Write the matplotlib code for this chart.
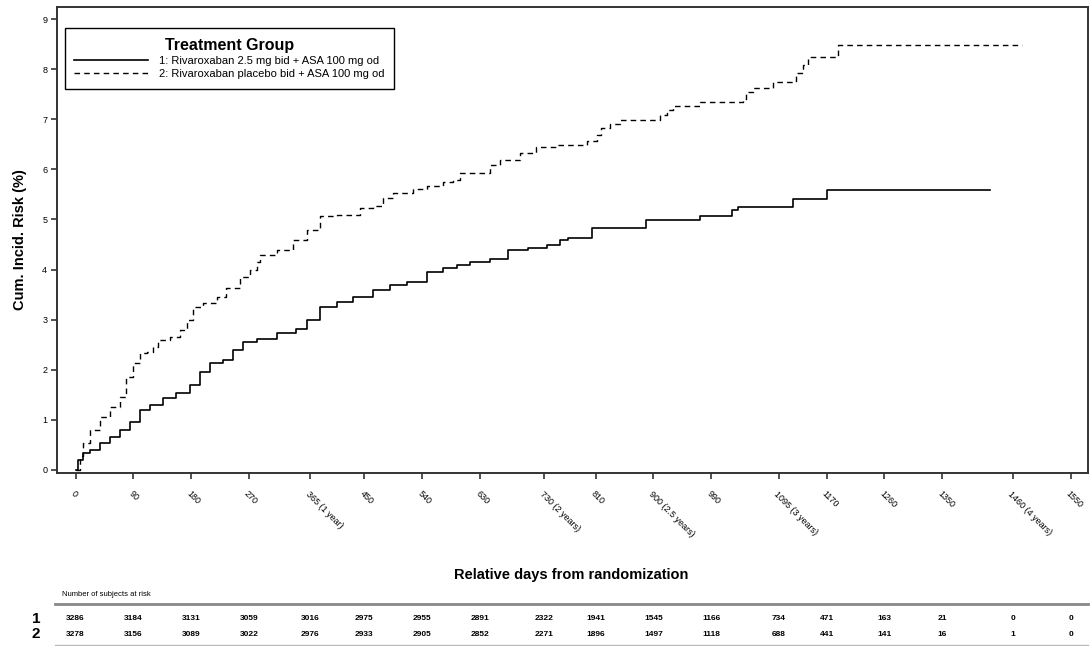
import matplotlib.pyplot as plt
from matplotlib.lines import Line2D
from matplotlib.transforms import blended_transform_factory

plt.rcParams['font.family'] = ['Liberation Sans', 'DejaVu Sans']

# cumulative incidence, step points (day, %)
days_riva = [0, 4, 12, 22, 38, 53, 69, 85, 100, 116, 136, 157, 178, 194, 209, 230, 246, 261,
             282, 313, 344, 360, 381, 407, 432, 464, 490, 516, 547, 573, 594, 615, 645, 674,
             705, 734, 754, 767, 804, 889, 972, 1022, 1032, 1118, 1170, 1425]
risk_riva = [0, 0.20, 0.33, 0.40, 0.53, 0.66, 0.80, 0.96, 1.20, 1.30, 1.43, 1.53, 1.70, 1.96,
             2.13, 2.20, 2.40, 2.56, 2.61, 2.73, 2.81, 2.99, 3.26, 3.36, 3.46, 3.59, 3.69, 3.76,
             3.96, 4.03, 4.09, 4.15, 4.22, 4.40, 4.44, 4.48, 4.58, 4.62, 4.82, 4.99, 5.07, 5.18,
             5.24, 5.40, 5.59, 5.59]

days_plac = [0, 7, 12, 22, 38, 53, 69, 79, 90, 100, 111, 121, 129, 147, 162, 173, 183, 199,
             220, 235, 256, 272, 282, 287, 313, 339, 360, 381, 407, 443, 464, 479, 495, 526,
             547, 573, 588, 599, 645, 661, 692, 718, 749, 796, 812, 819, 832, 848, 910, 921,
             931, 972, 1040, 1045, 1056, 1087, 1118, 1123, 1133, 1141, 1187, 1474]
risk_plac = [0, 0.27, 0.53, 0.80, 1.06, 1.26, 1.46, 1.86, 2.13, 2.33, 2.36, 2.46, 2.59, 2.65,
             2.79, 2.99, 3.26, 3.33, 3.46, 3.63, 3.86, 3.99, 4.16, 4.29, 4.39, 4.59, 4.79, 5.06,
             5.09, 5.22, 5.26, 5.42, 5.52, 5.60, 5.67, 5.75, 5.79, 5.93, 6.09, 6.19, 6.33, 6.45,
             6.49, 6.57, 6.69, 6.82, 6.91, 6.99, 7.09, 7.19, 7.27, 7.35, 7.41, 7.55, 7.63, 7.75,
             7.76, 7.92, 8.08, 8.25, 8.49, 8.49]

tick_days = [0, 90, 180, 270, 365, 450, 540, 630, 730, 810, 900, 990, 1095, 1170, 1260, 1350, 1460, 1550]
tick_labels = ['0', '90', '180', '270', '365 (1 year)', '450', '540', '630', '730 (2 years)', '810',
               '900 (2.5 years)', '990', '1095 (3 years)', '1170', '1260', '1350', '1460 (4 years)', '1550']

at_risk_1 = [3286, 3184, 3131, 3059, 3016, 2975, 2955, 2891, 2322, 1941, 1545, 1166, 734, 471, 163, 21, 0, 0]
at_risk_2 = [3278, 3156, 3089, 3022, 2976, 2933, 2905, 2852, 2271, 1896, 1497, 1118, 688, 441, 141, 16, 1, 0]

label_1 = '1: Rivaroxaban 2.5 mg bid + ASA 100 mg od'
label_2 = '2: Rivaroxaban placebo bid + ASA 100 mg od'

fig = plt.figure(figsize=(10.91, 6.46), dpi=100)
ax = fig.add_axes([0.0522, 0.268, 0.945, 0.721])

ax.plot(days_riva, risk_riva, drawstyle='steps-post', color='black', lw=1.2, label=label_1)
ax.plot(days_plac, risk_plac, drawstyle='steps-post', color='black', lw=1.0,
        dashes=(4, 3), label=label_2)

ax.set_xlim(-29, 1577)
ax.set_ylim(-0.06, 9.24)
ax.set_yticks(range(10))
ax.set_xticks(tick_days)
ax.set_xticklabels(tick_labels, rotation=-45, ha='left', va='top', rotation_mode='anchor')
ax.tick_params(axis='both', labelsize=6.5, length=4, width=1.2, color='#333333', pad=3)
ax.tick_params(axis='x', pad=8)
for s in ax.spines.values():
    s.set_color('#333333')
    s.set_linewidth(1.4)

ax.set_ylabel('Cum. Incid. Risk (%)', fontsize=10.5, fontweight='bold', labelpad=11)
fig.text(0.524, 0.110, 'Relative days from randomization', fontsize=10.5,
         fontweight='bold', ha='center', va='center')

leg = ax.legend(loc='upper left', bbox_to_anchor=(0.0078, 0.955), borderaxespad=0,
                title='Treatment Group', title_fontsize=11.5, fontsize=8,
                handlelength=6.6, handletextpad=1.0, labelspacing=0.3,
                fancybox=False, framealpha=1, edgecolor='black', borderpad=0.85)
leg.get_frame().set_linewidth(1.0)
leg.get_title().set_fontweight('bold')

# number at risk table
fig.text(0.057, 0.080, 'Number of subjects at risk', fontsize=5.5, va='center')
fig.add_artist(Line2D([0.050, 0.997], [0.065, 0.065], color='#888888', lw=2))
fig.add_artist(Line2D([0.050, 0.997], [0.002, 0.002], color='#bbbbbb', lw=1))
fig.text(0.033, 0.0425, '1', fontsize=11, fontweight='bold', ha='center', va='center')
fig.text(0.033, 0.0180, '2', fontsize=11, fontweight='bold', ha='center', va='center')
tr = blended_transform_factory(ax.transData, fig.transFigure)
for d, n1, n2 in zip(tick_days, at_risk_1, at_risk_2):
    ax.text(d, 0.0425, str(n1), transform=tr, fontsize=6, fontweight='bold',
            ha='center', va='center', clip_on=False)
    ax.text(d, 0.0180, str(n2), transform=tr, fontsize=6, fontweight='bold',
            ha='center', va='center', clip_on=False)

fig.savefig('out.png', dpi=100)
